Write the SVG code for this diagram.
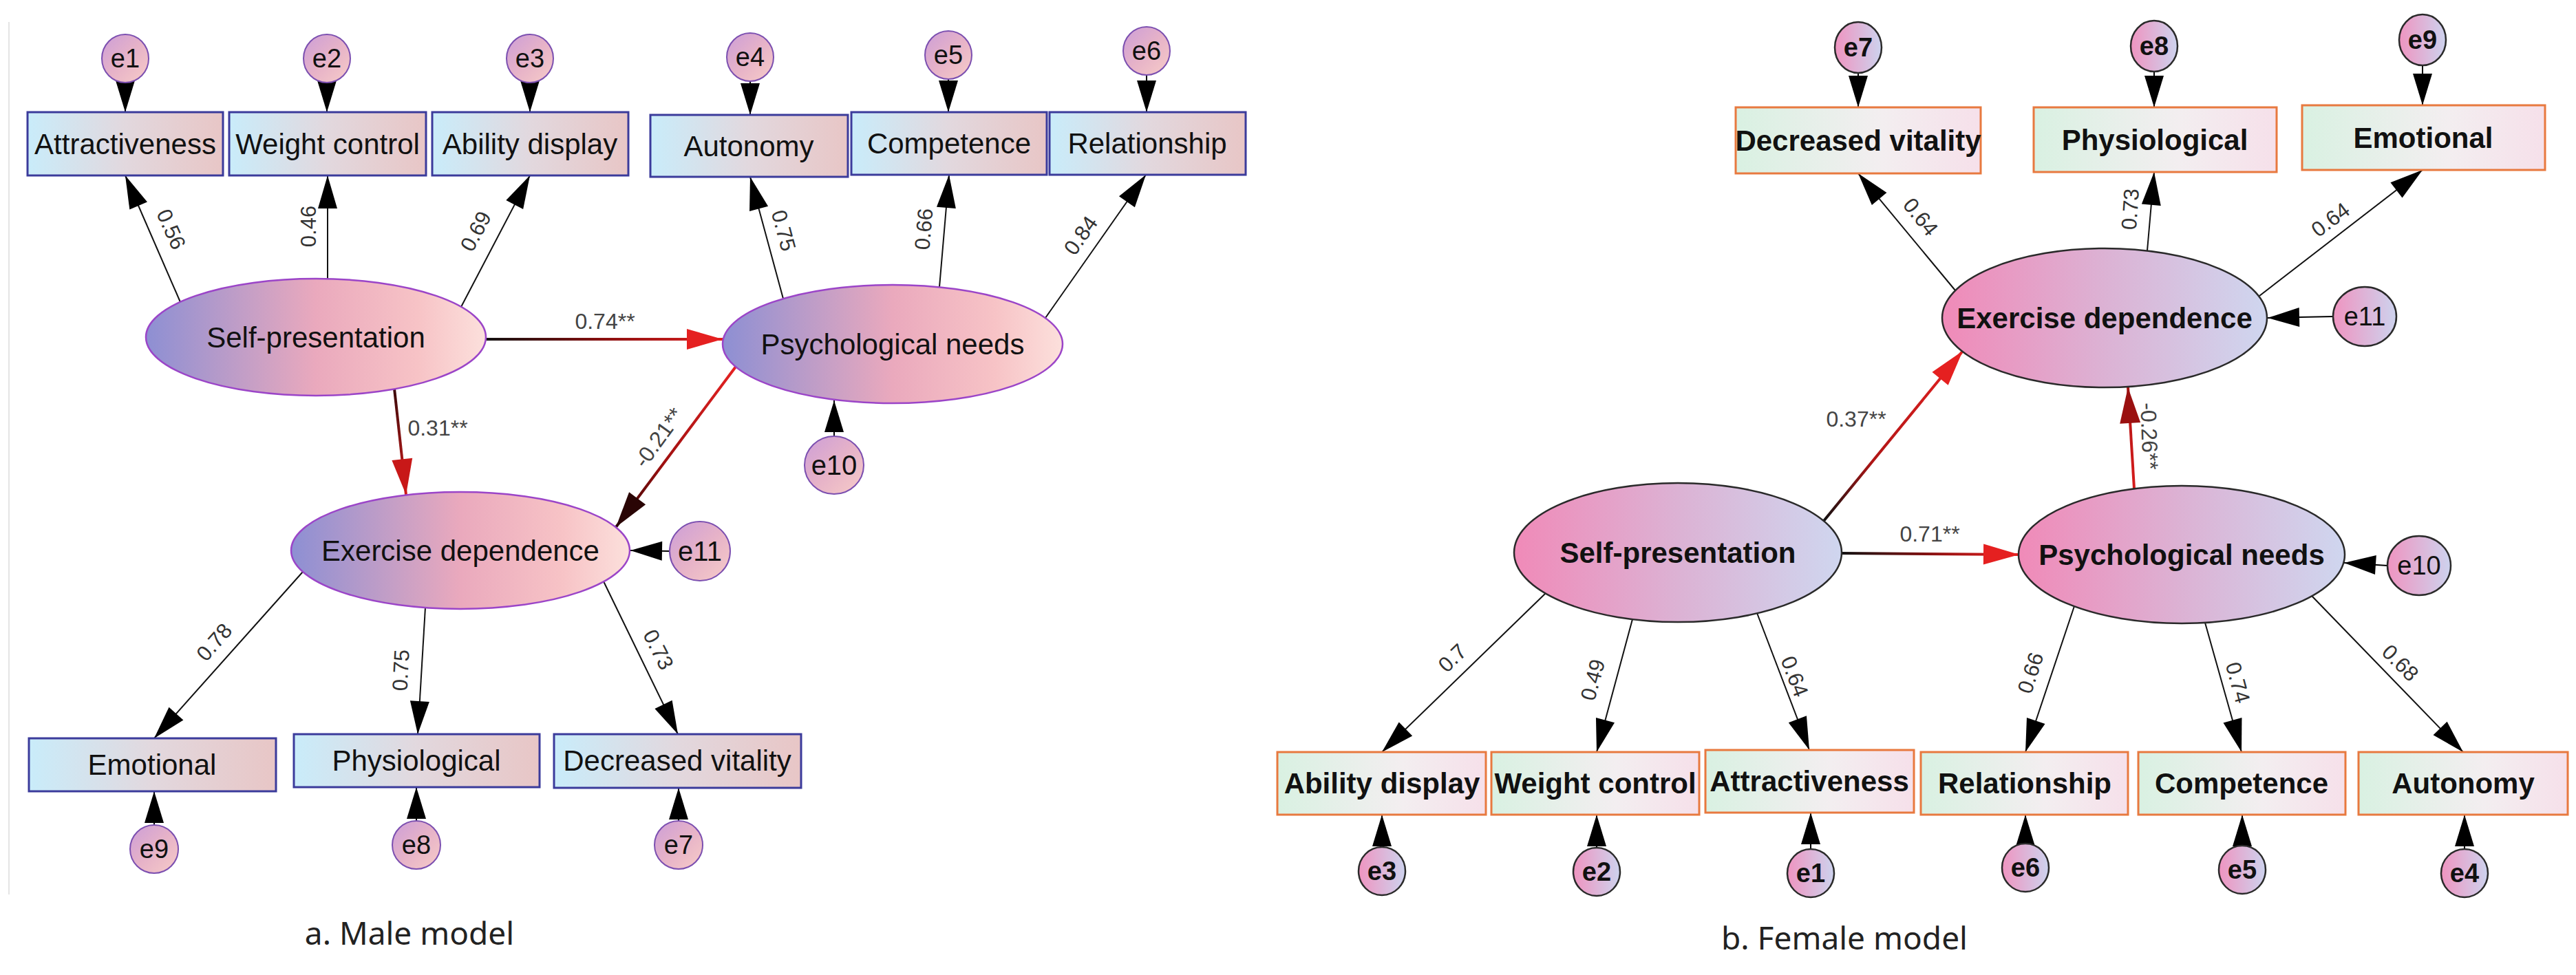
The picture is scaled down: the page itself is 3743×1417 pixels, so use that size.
<svg xmlns="http://www.w3.org/2000/svg" width="3743" height="1417" viewBox="0 0 3743 1417">
<style>
.mbox{fill:url(#gMBox);stroke:#3b3b9b;stroke-width:3}
.mell{fill:url(#gMEll);stroke:#9b45c8;stroke-width:2.5}
.merr{fill:url(#gMErr);stroke:#7b4fb0;stroke-width:2}
.fbox{fill:url(#gFBox);stroke:#e8793f;stroke-width:3}
.fell{fill:url(#gFEll);stroke:#2a2a2a;stroke-width:2.5}
.ferr{fill:url(#gFErr);stroke:#2a2a2a;stroke-width:2.5}
.t{font-family:"Liberation Sans",Arial,sans-serif;fill:#111;text-anchor:middle}
.tm{font-size:42px}
.tf{font-size:42px;font-weight:bold}
.te{font-size:38px}
.tfe{font-size:38px;font-weight:bold}
.lbl{font-size:31px;fill:#333}
.slbl{font-size:32px;fill:#444}
.cap{font-family:"Noto Sans","Open Sans",sans-serif;font-size:46px;fill:#222;text-anchor:middle}
.ld{stroke:#111;stroke-width:2;fill:none;marker-end:url(#ah)}
.ea{stroke:#000;stroke-width:2;fill:none;marker-end:url(#ahE)}
.st{stroke-width:4;fill:none}
</style>
<defs>
<linearGradient id="gMBox" x1="0" y1="0" x2="1" y2="0"><stop offset="0" stop-color="#c9ecfa"/><stop offset="0.5" stop-color="#e2d8de"/><stop offset="1" stop-color="#e8c6c6"/></linearGradient>
<linearGradient id="gMEll" x1="0" y1="0" x2="1" y2="0"><stop offset="0" stop-color="#8d8fd3"/><stop offset="0.5" stop-color="#eaa9bd"/><stop offset="0.8" stop-color="#f7c3c6"/><stop offset="1" stop-color="#fce0dc"/></linearGradient>
<linearGradient id="gMErr" x1="0" y1="0" x2="1" y2="1"><stop offset="0" stop-color="#cc9ed8"/><stop offset="0.5" stop-color="#e6b2c8"/><stop offset="1" stop-color="#f7ccc8"/></linearGradient>
<linearGradient id="gFBox" x1="0" y1="0" x2="1" y2="0"><stop offset="0" stop-color="#d9f1e2"/><stop offset="0.6" stop-color="#f3eef0"/><stop offset="1" stop-color="#f6e0ea"/></linearGradient>
<linearGradient id="gFEll" x1="0" y1="0" x2="1" y2="0"><stop offset="0" stop-color="#f08ab8"/><stop offset="0.5" stop-color="#dcb2d4"/><stop offset="1" stop-color="#cfd6ef"/></linearGradient>
<linearGradient id="gFErr" x1="0" y1="0" x2="1" y2="0"><stop offset="0" stop-color="#ef94c0"/><stop offset="1" stop-color="#cdd3ee"/></linearGradient>
<linearGradient id="g074" gradientUnits="userSpaceOnUse" x1="706" y1="493" x2="1050" y2="493"><stop offset="0" stop-color="#111"/><stop offset="0.5" stop-color="#8a0f0f"/><stop offset="1" stop-color="#e02020"/></linearGradient>
<linearGradient id="g031" gradientUnits="userSpaceOnUse" x1="573" y1="565" x2="590" y2="719"><stop offset="0" stop-color="#3a0a0a"/><stop offset="1" stop-color="#d81c1c"/></linearGradient>
<linearGradient id="g021" gradientUnits="userSpaceOnUse" x1="1069" y1="533" x2="895" y2="766"><stop offset="0" stop-color="#e52222"/><stop offset="0.6" stop-color="#a01010"/><stop offset="1" stop-color="#2a0505"/></linearGradient>
<linearGradient id="g037" gradientUnits="userSpaceOnUse" x1="2650" y1="757" x2="2852" y2="510"><stop offset="0" stop-color="#111"/><stop offset="0.35" stop-color="#b01515"/><stop offset="1" stop-color="#e52222"/></linearGradient>
<linearGradient id="g071" gradientUnits="userSpaceOnUse" x1="2676" y1="804" x2="2934" y2="806"><stop offset="0" stop-color="#111"/><stop offset="0.6" stop-color="#a01212"/><stop offset="1" stop-color="#e52222"/></linearGradient>
<linearGradient id="g026" gradientUnits="userSpaceOnUse" x1="3101" y1="710" x2="3092" y2="563"><stop offset="0" stop-color="#d61c1c"/><stop offset="1" stop-color="#b01515"/></linearGradient>
<marker id="ah" markerUnits="userSpaceOnUse" markerWidth="50" markerHeight="28" refX="48" refY="14" orient="auto" overflow="visible"><path d="M0,0 L48,14 L0,28 z" fill="#000"/></marker>
<marker id="ahE" markerUnits="userSpaceOnUse" markerWidth="48" markerHeight="28" refX="46" refY="14" orient="auto" overflow="visible"><path d="M0,0 L46,14 L0,28 z" fill="#000"/></marker>
<marker id="ahR" markerUnits="userSpaceOnUse" markerWidth="54" markerHeight="30" refX="52" refY="15" orient="auto" overflow="visible"><path d="M0,0 L52,15 L0,30 z" fill="#e52020"/></marker>
<marker id="ahR2" markerUnits="userSpaceOnUse" markerWidth="54" markerHeight="30" refX="52" refY="15" orient="auto" overflow="visible"><path d="M0,0 L52,15 L0,30 z" fill="#c81818"/></marker>
<marker id="ahD" markerUnits="userSpaceOnUse" markerWidth="54" markerHeight="30" refX="52" refY="15" orient="auto" overflow="visible"><path d="M0,0 L52,15 L0,30 z" fill="#2a0505"/></marker>
<marker id="ahDR" markerUnits="userSpaceOnUse" markerWidth="54" markerHeight="30" refX="52" refY="15" orient="auto" overflow="visible"><path d="M0,0 L52,15 L0,30 z" fill="#9a1010"/></marker>
</defs>
<rect width="3743" height="1417" fill="#fff"/>
<line x1="13" y1="32" x2="13" y2="1300" stroke="#e4e4e4" stroke-width="2"/>

<g id="connectors">
<line class="ld" x1="262" y1="439" x2="182" y2="255"/>
<line class="ld" x1="476" y1="405" x2="476" y2="255"/>
<line class="ld" x1="670" y1="446" x2="770" y2="255"/>
<line class="ld" x1="1138" y1="434" x2="1090" y2="257"/>
<line class="ld" x1="1365" y1="417" x2="1379" y2="254"/>
<line class="ld" x1="1519" y1="462" x2="1665" y2="254"/>
<line class="ld" x1="440" y1="831" x2="224" y2="1073"/>
<line class="ld" x1="618" y1="883" x2="607" y2="1067"/>
<line class="ld" x1="877" y1="845" x2="985" y2="1067"/>
<line class="ea" x1="182" y1="119" x2="182" y2="163"/>
<line class="ea" x1="475" y1="119" x2="475" y2="163"/>
<line class="ea" x1="770" y1="119" x2="770" y2="163"/>
<line class="ea" x1="1090" y1="117" x2="1090" y2="167"/>
<line class="ea" x1="1378" y1="114" x2="1378" y2="163"/>
<line class="ea" x1="1666" y1="108" x2="1666" y2="163"/>
<line class="ea" x1="1212" y1="634" x2="1212" y2="582"/>
<line class="ea" x1="973" y1="801" x2="916" y2="800"/>
<line class="ea" x1="224" y1="1199" x2="224" y2="1150"/>
<line class="ea" x1="605" y1="1193" x2="605" y2="1144"/>
<line class="ea" x1="986" y1="1193" x2="986" y2="1145"/>
<line class="st" stroke="url(#g074)" marker-end="url(#ahR)" x1="706" y1="493" x2="1050" y2="493"/>
<line class="st" stroke="url(#g031)" marker-end="url(#ahR2)" x1="573" y1="565" x2="590" y2="719"/>
<line class="st" stroke="url(#g021)" marker-end="url(#ahD)" x1="1069" y1="533" x2="895" y2="766"/>
<line class="ld" x1="2841" y1="422" x2="2700" y2="252"/>
<line class="ld" x1="3120" y1="364" x2="3130" y2="250"/>
<line class="ld" x1="3283" y1="430" x2="3520" y2="247"/>
<line class="ld" x1="2246" y1="862" x2="2008" y2="1093"/>
<line class="ld" x1="2372" y1="900" x2="2320" y2="1093"/>
<line class="ld" x1="2553" y1="891" x2="2629" y2="1090"/>
<line class="ld" x1="3014" y1="881" x2="2943" y2="1093"/>
<line class="ld" x1="3204" y1="905" x2="3257" y2="1093"/>
<line class="ld" x1="3359" y1="866" x2="3579" y2="1093"/>
<line class="ea" x1="2700" y1="106" x2="2700" y2="156"/>
<line class="ea" x1="3130" y1="104" x2="3130" y2="156"/>
<line class="ea" x1="3520" y1="95" x2="3520" y2="153"/>
<line class="ea" x1="3390" y1="460" x2="3295" y2="462"/>
<line class="ea" x1="3469" y1="822" x2="3406" y2="818"/>
<line class="ea" x1="2008" y1="1231" x2="2008" y2="1184"/>
<line class="ea" x1="2320" y1="1232" x2="2320" y2="1184"/>
<line class="ea" x1="2631" y1="1234" x2="2631" y2="1181"/>
<line class="ea" x1="2943" y1="1226" x2="2943" y2="1184"/>
<line class="ea" x1="3258" y1="1229" x2="3258" y2="1184"/>
<line class="ea" x1="3581" y1="1234" x2="3581" y2="1184"/>
<line class="st" stroke="url(#g037)" marker-end="url(#ahR)" x1="2650" y1="757" x2="2852" y2="510"/>
<line class="st" stroke="url(#g071)" marker-end="url(#ahR)" x1="2676" y1="804" x2="2934" y2="806"/>
<line class="st" stroke="url(#g026)" marker-end="url(#ahDR)" x1="3101" y1="710" x2="3092" y2="563"/>
<text class="t slbl" x="879" y="478">0.74**</text>
<text class="t slbl" x="636" y="633">0.31**</text>
<text class="t slbl" transform="translate(957,636) rotate(-54)" y="11">-0.21**</text>
<text class="t lbl" transform="translate(249,333) rotate(66)" y="11">0.56</text>
<text class="t lbl" transform="translate(448,329) rotate(-90)" y="11">0.46</text>
<text class="t lbl" transform="translate(691,336) rotate(-62)" y="11">0.69</text>
<text class="t lbl" transform="translate(1139,335) rotate(75)" y="11">0.75</text>
<text class="t lbl" transform="translate(1342,333) rotate(-85)" y="11">0.66</text>
<text class="t lbl" transform="translate(1570,342) rotate(-55)" y="11">0.84</text>
<text class="t lbl" transform="translate(311,933) rotate(-49)" y="11">0.78</text>
<text class="t lbl" transform="translate(582,974) rotate(-87)" y="11">0.75</text>
<text class="t lbl" transform="translate(957,944) rotate(63)" y="11">0.73</text>
<text class="t slbl" x="2697" y="620">0.37**</text>
<text class="t slbl" x="2804" y="787">0.71**</text>
<text class="t slbl" transform="translate(3123,634) rotate(88)" y="11">-0.26**</text>
<text class="t lbl" transform="translate(2791,315) rotate(51)" y="11">0.64</text>
<text class="t lbl" transform="translate(3095,304) rotate(-86)" y="11">0.73</text>
<text class="t lbl" transform="translate(3386,319) rotate(-37)" y="11">0.64</text>
<text class="t lbl" transform="translate(2110,956) rotate(-44)" y="11">0.7</text>
<text class="t lbl" transform="translate(2314,988) rotate(-75)" y="11">0.49</text>
<text class="t lbl" transform="translate(2608,983) rotate(69)" y="11">0.64</text>
<text class="t lbl" transform="translate(2950,978) rotate(-72)" y="11">0.66</text>
<text class="t lbl" transform="translate(3252,992) rotate(75)" y="11">0.74</text>
<text class="t lbl" transform="translate(3488,963) rotate(45)" y="11">0.68</text>
</g>

<g id="m-attr"><rect class="mbox" x="40" y="163" width="284" height="92"/><text class="t tm" x="182" y="224">Attractiveness</text></g>
<g id="m-weight"><rect class="mbox" x="333" y="163" width="286" height="92"/><text class="t tm" x="476" y="224">Weight control</text></g>
<g id="m-ability"><rect class="mbox" x="628" y="163" width="285" height="92"/><text class="t tm" x="770" y="224">Ability display</text></g>
<g id="m-auto"><rect class="mbox" x="945" y="167" width="287" height="90"/><text class="t tm" x="1088" y="227">Autonomy</text></g>
<g id="m-comp"><rect class="mbox" x="1237" y="163" width="284" height="91"/><text class="t tm" x="1379" y="223">Competence</text></g>
<g id="m-rel"><rect class="mbox" x="1525" y="163" width="285" height="91"/><text class="t tm" x="1667" y="223">Relationship</text></g>
<g id="m-emo"><rect class="mbox" x="42" y="1073" width="359" height="77"/><text class="t tm" x="221" y="1126">Emotional</text></g>
<g id="m-phys"><rect class="mbox" x="427" y="1067" width="357" height="77"/><text class="t tm" x="605" y="1120">Physiological</text></g>
<g id="m-dv"><rect class="mbox" x="805" y="1067" width="359" height="78"/><text class="t tm" x="984" y="1120">Decreased vitality</text></g>
<g id="m-sp"><ellipse class="mell" cx="459" cy="490" rx="247" ry="85"/><text class="t tm" x="459" y="505">Self-presentation</text></g>
<g id="m-pn"><ellipse class="mell" cx="1297" cy="500" rx="247" ry="86"/><text class="t tm" x="1297" y="515">Psychological needs</text></g>
<g id="m-ed"><ellipse class="mell" cx="669" cy="800" rx="246" ry="85"/><text class="t tm" x="669" y="815">Exercise dependence</text></g>
<g id="m-e1"><ellipse class="merr" cx="182" cy="85" rx="34" ry="35"/><text class="t te" x="182" y="98">e1</text></g>
<g id="m-e2"><ellipse class="merr" cx="475" cy="85" rx="34" ry="35"/><text class="t te" x="475" y="98">e2</text></g>
<g id="m-e3"><ellipse class="merr" cx="770" cy="85" rx="34" ry="35"/><text class="t te" x="770" y="98">e3</text></g>
<g id="m-e4"><ellipse class="merr" cx="1090" cy="83" rx="34" ry="35"/><text class="t te" x="1090" y="96">e4</text></g>
<g id="m-e5"><ellipse class="merr" cx="1378" cy="80" rx="34" ry="35"/><text class="t te" x="1378" y="93">e5</text></g>
<g id="m-e6"><ellipse class="merr" cx="1666" cy="74" rx="34" ry="35"/><text class="t te" x="1666" y="87">e6</text></g>
<g id="m-e7"><ellipse class="merr" cx="986" cy="1228" rx="35" ry="35"/><text class="t te" x="986" y="1241">e7</text></g>
<g id="m-e8"><ellipse class="merr" cx="605" cy="1228" rx="35" ry="35"/><text class="t te" x="605" y="1241">e8</text></g>
<g id="m-e9"><ellipse class="merr" cx="224" cy="1234" rx="35" ry="35"/><text class="t te" x="224" y="1247">e9</text></g>
<g id="m-e10"><ellipse class="merr" cx="1212" cy="676" rx="43" ry="42"/><text class="t" style="font-size:40px" x="1212" y="690">e10</text></g>
<g id="m-e11"><ellipse class="merr" cx="1017" cy="801" rx="44" ry="43"/><text class="t" style="font-size:40px" x="1017" y="815">e11</text></g>
<text class="cap" x="595" y="1373">a. Male model</text>

<g id="f-dv"><rect class="fbox" x="2522" y="156" width="356" height="96"/><text class="t tf" x="2700" y="219">Decreased vitality</text></g>
<g id="f-phys"><rect class="fbox" x="2955" y="156" width="353" height="94"/><text class="t tf" x="3131" y="218">Physiological</text></g>
<g id="f-emo"><rect class="fbox" x="3345" y="153" width="353" height="94"/><text class="t tf" x="3521" y="215">Emotional</text></g>
<g id="f-ability"><rect class="fbox" x="1856" y="1093" width="303" height="91"/><text class="t tf" x="2008" y="1153">Ability display</text></g>
<g id="f-weight"><rect class="fbox" x="2167" y="1093" width="302" height="91"/><text class="t tf" x="2318" y="1153">Weight control</text></g>
<g id="f-attr"><rect class="fbox" x="2478" y="1090" width="303" height="91"/><text class="t tf" x="2629" y="1150">Attractiveness</text></g>
<g id="f-rel"><rect class="fbox" x="2791" y="1093" width="301" height="91"/><text class="t tf" x="2942" y="1153">Relationship</text></g>
<g id="f-comp"><rect class="fbox" x="3107" y="1093" width="301" height="91"/><text class="t tf" x="3257" y="1153">Competence</text></g>
<g id="f-auto"><rect class="fbox" x="3427" y="1093" width="304" height="91"/><text class="t tf" x="3579" y="1153">Autonomy</text></g>
<g id="f-sp"><ellipse class="fell" cx="2438" cy="803" rx="238" ry="101"/><text class="t tf" x="2438" y="818">Self-presentation</text></g>
<g id="f-pn"><ellipse class="fell" cx="3170" cy="806" rx="237" ry="100"/><text class="t tf" x="3170" y="821">Psychological needs</text></g>
<g id="f-ed"><ellipse class="fell" cx="3058" cy="462" rx="236" ry="101"/><text class="t tf" x="3058" y="477">Exercise dependence</text></g>
<g id="f-e7"><ellipse class="ferr" cx="2700" cy="69" rx="34" ry="37"/><text class="t tfe" x="2700" y="82">e7</text></g>
<g id="f-e8"><ellipse class="ferr" cx="3130" cy="67" rx="34" ry="37"/><text class="t tfe" x="3130" y="80">e8</text></g>
<g id="f-e9"><ellipse class="ferr" cx="3520" cy="58" rx="34" ry="37"/><text class="t tfe" x="3520" y="71">e9</text></g>
<g id="f-e3"><ellipse class="ferr" cx="2008" cy="1266" rx="34" ry="35"/><text class="t tfe" x="2008" y="1279">e3</text></g>
<g id="f-e2"><ellipse class="ferr" cx="2320" cy="1267" rx="34" ry="35"/><text class="t tfe" x="2320" y="1280">e2</text></g>
<g id="f-e1"><ellipse class="ferr" cx="2631" cy="1269" rx="34" ry="35"/><text class="t tfe" x="2631" y="1282">e1</text></g>
<g id="f-e6"><ellipse class="ferr" cx="2943" cy="1261" rx="34" ry="35"/><text class="t tfe" x="2943" y="1274">e6</text></g>
<g id="f-e5"><ellipse class="ferr" cx="3258" cy="1264" rx="34" ry="35"/><text class="t tfe" x="3258" y="1277">e5</text></g>
<g id="f-e4"><ellipse class="ferr" cx="3581" cy="1269" rx="34" ry="35"/><text class="t tfe" x="3581" y="1282">e4</text></g>
<g id="f-e10"><ellipse class="ferr" cx="3515" cy="822" rx="46" ry="43"/><text class="t te" x="3515" y="835">e10</text></g>
<g id="f-e11"><ellipse class="ferr" cx="3436" cy="460" rx="46" ry="43"/><text class="t te" x="3436" y="473">e11</text></g>
<text class="cap" x="2680" y="1380">b. Female model</text>
</svg>
